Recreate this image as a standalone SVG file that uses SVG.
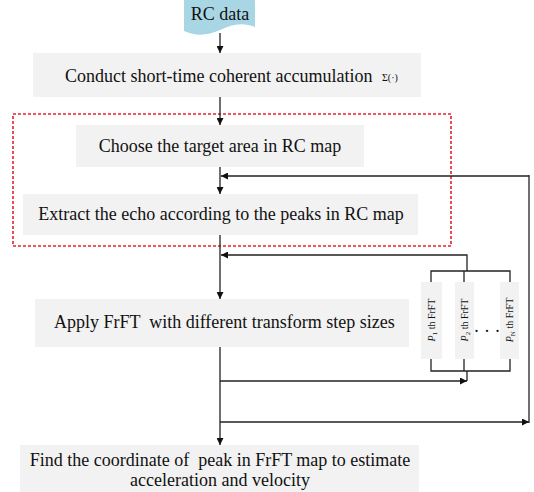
<svg xmlns="http://www.w3.org/2000/svg" width="534" height="492" viewBox="0 0 534 492">
<style>
.box{fill:#f2f2f2;}
.t{font-family:"Liberation Serif","Times New Roman",serif;font-size:18px;fill:#111;}
.s{font-family:"Liberation Serif","Times New Roman",serif;font-size:10px;fill:#111;}
.ln{fill:none;stroke:#222;stroke-width:1.3;}
</style>
<defs>
<marker id="ah" viewBox="0 0 10 10" refX="10" refY="5" markerWidth="7" markerHeight="7" markerUnits="userSpaceOnUse" orient="auto">
<path d="M0,0 L10,5 L0,10 Z" fill="#111"/>
</marker>
</defs>
<rect width="534" height="492" fill="#fff"/>
<g id="rcdata">
<path d="M184,0 H255 V27 C243,22 232,24 220,30 C207,36 195,36 184,31 Z" fill="#a9d6e4"/>
<text class="t" x="220" y="20" text-anchor="middle" font-size="19">RC data</text>
</g>
<g id="conduct">
<rect class="box" x="33" y="53" width="388" height="44"/>
<text class="t" x="65" y="82" font-size="17">Conduct short-time coherent accumulation</text>
<text class="s" x="382" y="81" font-size="12.5">Σ(·)</text>
</g>
<g id="region">
<rect x="13" y="114" width="438" height="132" fill="none" stroke="#e8202a" stroke-width="1.6" stroke-dasharray="3,2"/>
</g>
<g id="choose">
<rect class="box" x="76" y="125" width="288" height="42"/>
<text class="t" x="220" y="152" text-anchor="middle">Choose the target area in RC map</text>
</g>
<g id="extract">
<rect class="box" x="23" y="194" width="395" height="41"/>
<text class="t" x="221" y="220" text-anchor="middle">Extract the echo according to the peaks in RC map</text>
</g>
<g id="apply">
<rect class="box" x="35" y="299" width="374" height="48"/>
<text class="t" x="54" y="328" xml:space="preserve">Apply FrFT  with different transform step sizes</text>
</g>
<g id="p1">
<rect class="box" x="421" y="282" width="21" height="77"/>
<text class="s" transform="translate(435,320) rotate(-90)" text-anchor="middle"><tspan font-style="italic">P</tspan><tspan font-size="7" dy="2">1</tspan><tspan dy="-2"> th FrFT</tspan></text>
</g>
<g id="p2">
<rect class="box" x="455" y="282" width="19" height="77"/>
<text class="s" transform="translate(468,320) rotate(-90)" text-anchor="middle"><tspan font-style="italic">P</tspan><tspan font-size="7" dy="2">2</tspan><tspan dy="-2"> th FrFT</tspan></text>
</g>
<g id="pn">
<rect class="box" x="500" y="282" width="19" height="77"/>
<text class="s" transform="translate(513,320) rotate(-90)" text-anchor="middle"><tspan font-style="italic">P</tspan><tspan font-size="7" dy="2">N</tspan><tspan dy="-2"> th FrFT</tspan></text>
</g>
<g id="dots">
<text class="t" x="487" y="337" text-anchor="middle" font-size="14">· · ·</text>
</g>
<g id="find">
<rect class="box" x="20" y="445" width="399" height="47"/>
<text class="t" x="220" y="466" text-anchor="middle" xml:space="preserve">Find the coordinate of  peak in FrFT map to estimate</text>
<text class="t" x="220" y="486" text-anchor="middle">acceleration and velocity</text>
</g>
<g id="connectors">
<path class="ln" d="M220,33 V53" marker-end="url(#ah)"/>
<path class="ln" d="M220,97 V125" marker-end="url(#ah)"/>
<path class="ln" d="M220,167 V194" marker-end="url(#ah)"/>
<path class="ln" d="M529,176 H221" marker-end="url(#ah)"/>
<path class="ln" d="M220,235 V299" marker-end="url(#ah)"/>
<path class="ln" d="M467,271 V255 H221" marker-end="url(#ah)"/>
<path class="ln" d="M431,282 V271 H510 V282"/>
<path class="ln" d="M464,271 V282"/>
<path class="ln" d="M431,359 V371 H510 V359"/>
<path class="ln" d="M464,359 V371"/>
<path class="ln" d="M467,371 V381"/>
<path class="ln" d="M220,347 V445" marker-end="url(#ah)"/>
<path class="ln" d="M220,381 H467" marker-end="url(#ah)"/>
<path class="ln" d="M220,422 H529" marker-end="url(#ah)"/>
<path class="ln" d="M529,175 V423"/>
</g>
</svg>
